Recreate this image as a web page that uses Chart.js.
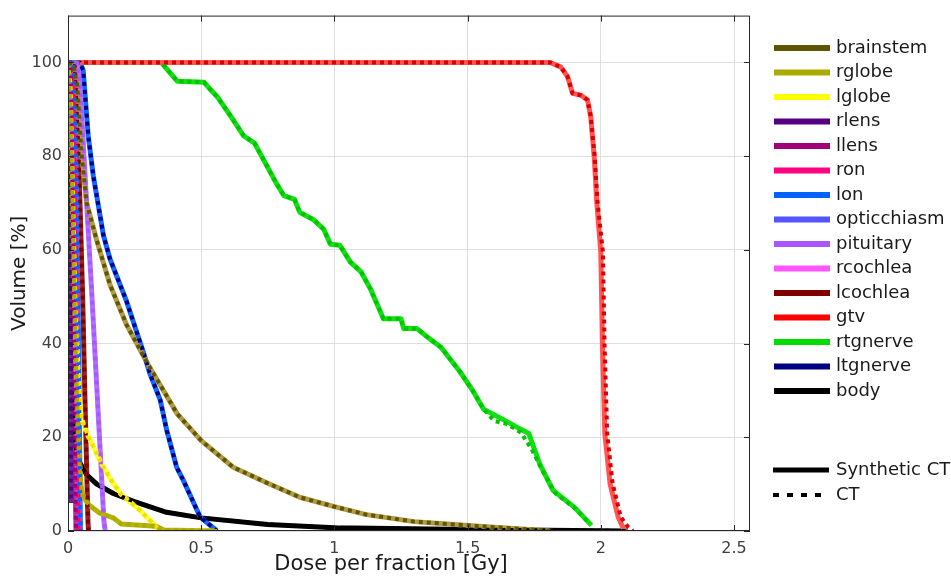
<!DOCTYPE html>
<html>
<head>
<meta charset="utf-8">
<script src="https://cdn.jsdelivr.net/npm/chart.js@4.4.1/dist/chart.umd.min.js"></script>
<style>
    html, body { margin: 0; padding: 0; background: #fff; }
    #wrap { width: 951px; height: 578px; position: relative; }
</style>
</head>
<body>
<div id="wrap"><canvas id="dvhChart"></canvas></div>
<script>
// tick labels
const doseTicks = [0, 0.5, 1, 1.5, 2, 2.5];
const volumeTicks = [0, 20, 40, 60, 80, 100];

const organs = ["brainstem", "rglobe", "lglobe", "rlens", "llens", "ron", "lon", "opticchiasm",
    "pituitary", "rcochlea", "lcochlea", "gtv", "rtgnerve", "ltgnerve", "body"];

// [dose Gy, volume %] - synthetic CT
const brainstemSyn = [[0, 100], [0.02, 99.5], [0.035, 95], [0.05, 81], [0.07, 70], [0.108, 62], [0.158, 52.5], [0.22, 44], [0.3, 35.6], [0.41, 25], [0.5, 19.3], [0.62, 13.6], [0.75, 10.2], [0.87, 7.2], [1.0, 5.2], [1.12, 3.5], [1.3, 2], [1.45, 1.4], [1.6, 0.8], [1.82, 0]];
const rglobeSyn = [[0, 100], [0.01, 90], [0.02, 60], [0.03, 35], [0.04, 18], [0.05, 9], [0.06, 7], [0.08, 5.5], [0.12, 3.8], [0.17, 2.8], [0.2, 1.5], [0.33, 1], [0.36, 0.2], [0.56, 0]];
const lglobeSyn = [[0, 100], [0.01, 95], [0.02, 70], [0.03, 45], [0.04, 30], [0.05, 24], [0.07, 21], [0.12, 15], [0.16, 11], [0.2, 7.8], [0.27, 4.4], [0.33, 1], [0.35, 0]];
const rlensSyn = [[0, 100], [0.005, 80], [0.01, 40], [0.012, 6]];
const llensSyn = [[0, 100], [0.01, 100], [0.02, 60], [0.025, 20], [0.03, 0]];
const ronSyn = [[0, 100], [0.02, 95], [0.03, 60], [0.035, 20], [0.04, 0]];
const lonSyn = [[0, 100], [0.02, 100], [0.03, 80], [0.04, 40], [0.045, 10], [0.047, 0]];
const opticchiasmSyn = [[0, 100], [0.015, 100], [0.025, 70], [0.035, 30], [0.04, 5], [0.042, 0]];
const pituitarySyn = [[0, 100], [0.035, 100], [0.045, 95], [0.09, 50], [0.135, 2], [0.14, 0]];
const rcochleaSyn = [[0, 100], [0.015, 100], [0.025, 60], [0.035, 10], [0.04, 0]];
const lcochleaSyn = [[0, 100], [0.025, 100], [0.04, 80], [0.055, 50], [0.065, 25], [0.075, 2], [0.077, 0]];
const gtvSyn = [[0, 100], [1.81, 100], [1.85, 99], [1.875, 97], [1.894, 93.4], [1.925, 93], [1.95, 92], [1.962, 88.5], [1.975, 80], [1.985, 70], [2.0, 59.5], [2.006, 40], [2.015, 20.8], [2.035, 10], [2.065, 3], [2.085, 0.5], [2.09, 0]];
const rtgnerveSyn = [[0, 100], [0.35, 100], [0.38, 98], [0.41, 96], [0.51, 95.8], [0.53, 94.5], [0.56, 92.7], [0.61, 88.6], [0.66, 84.3], [0.7, 82.8], [0.72, 80.7], [0.78, 74.4], [0.81, 71.6], [0.85, 70.8], [0.87, 68], [0.92, 66.5], [0.96, 64.4], [0.985, 61.2], [1.02, 61], [1.06, 57.4], [1.1, 55.3], [1.135, 51.7], [1.184, 45.3], [1.25, 45.3], [1.26, 43.2], [1.31, 43.2], [1.36, 40.9], [1.4, 39.2], [1.47, 34.1], [1.52, 29.9], [1.56, 26], [1.62, 24.2], [1.69, 22], [1.73, 20.8], [1.77, 14.4], [1.82, 8.7], [1.9, 5.1], [1.965, 1.2]];
const ltgnerveSyn = [[0, 100], [0.045, 100], [0.057, 98.3], [0.076, 84.3], [0.095, 75.8], [0.133, 63.1], [0.158, 58], [0.22, 49], [0.282, 38.3], [0.308, 33.5], [0.346, 28], [0.371, 21.4], [0.408, 13.6], [0.433, 10.8], [0.496, 3], [0.559, 0]];
const bodySyn = [[0, 100], [0.004, 60], [0.01, 35], [0.02, 22], [0.03, 17.5], [0.045, 14.5], [0.07, 12], [0.108, 10], [0.17, 8], [0.244, 6.4], [0.37, 4], [0.5, 2.8], [0.75, 1.4], [1.0, 0.7], [1.5, 0.3], [2.0, 0.05], [2.1, 0]];

// CT curves where they differ visibly from synthetic CT
const gtvCT = [[0, 100], [1.81, 100], [1.85, 99], [1.875, 97], [1.894, 93.4], [1.925, 93], [1.95, 92], [1.962, 88.5], [1.977, 80], [1.988, 70], [2.008, 59.5], [2.014, 40], [2.024, 20.8], [2.044, 10.2], [2.075, 3], [2.1, 1], [2.12, 0]];
const rtgnerveCT = [[0, 100], [0.35, 100], [0.38, 98], [0.41, 96], [0.51, 95.8], [0.53, 94.5], [0.56, 92.7], [0.61, 88.6], [0.66, 84.3], [0.7, 82.8], [0.72, 80.7], [0.78, 74.4], [0.81, 71.6], [0.85, 70.8], [0.87, 68], [0.92, 66.5], [0.96, 64.4], [0.985, 61.2], [1.02, 61], [1.06, 57.4], [1.1, 55.3], [1.135, 51.7], [1.184, 45.3], [1.25, 45.3], [1.26, 43.2], [1.31, 43.2], [1.36, 40.9], [1.4, 39.2], [1.47, 34.1], [1.52, 29.9], [1.56, 26], [1.6, 23.5], [1.65, 22.8], [1.7, 21], [1.74, 17.5], [1.78, 13], [1.83, 8], [1.9, 5], [1.96, 1.5]];

const synValues = [brainstemSyn, rglobeSyn, lglobeSyn, rlensSyn, llensSyn, ronSyn, lonSyn, opticchiasmSyn,
    pituitarySyn, rcochleaSyn, lcochleaSyn, gtvSyn, rtgnerveSyn, ltgnerveSyn, bodySyn];
const ctValues = [brainstemSyn, rglobeSyn, lglobeSyn, rlensSyn, llensSyn, ronSyn, lonSyn, opticchiasmSyn,
    pituitarySyn, rcochleaSyn, lcochleaSyn, gtvCT, rtgnerveCT, ltgnerveSyn, bodySyn];

let ctColors = ["#5e5700", "#aaaa00", "#ffff00", "#550080", "#a0007a", "#ff0080", "#0064ff", "#5555ff",
    "#aa55ff", "#ff55ff", "#800000", "#ff0000", "#00dd00", "#000080", "#000000"];
let dotColors = ["#5e5700", "#aaaa00", "#f0e000", "#550080", "#a0007a", "#ff0080", "#0064ff", "#5555ff",
    "#aa55ff", "#ff55ff", "#800000", "#dd0000", "#00c400", "#000080", "#000000"];
let synColors = ["#b39a48", "#b5b500", "#ffff30", "#6a2a95", "#b03090", "#ff3399", "#2a7dff", "#6b6bff",
    "#b070ff", "#ff70ff", "#992222", "#ff5555", "#11e011", "#1466ff", "#000000"];

const FONT = "'DejaVu Sans', Verdana, sans-serif";

function toPoints(list) {
    return list.map(p => ({ x: p[0], y: p[1] }));
}

let datasets = [];
organs.forEach((name, i) => {
    datasets.push({
        label: name + " synthetic",
        data: toPoints(synValues[i]),
        borderColor: synColors[i],
        borderWidth: 5,
        order: 1,
    });
    datasets.push({
        label: name + " CT",
        data: toPoints(ctValues[i]),
        borderColor: dotColors[i],
        borderWidth: 4,
        borderDash: [4, 4],
        order: 0,
    });
});

// matlab-like box, inward ticks, x title and legend on the right
const boxPlugin = {
    id: "boxPlugin",
    afterDraw(chart) {
        const ctx = chart.ctx;
        const a = chart.chartArea;
        const xs = chart.scales.x, ys = chart.scales.y;
        ctx.save();
        ctx.strokeStyle = "#262626";
        ctx.lineWidth = 1;
        ctx.strokeRect(a.left + 0.5, a.top + 0.5, a.right - a.left - 1, a.bottom - a.top - 1);
        ctx.beginPath();
        doseTicks.forEach(v => {
            let px = Math.round(xs.getPixelForValue(v)) + 0.5;
            ctx.moveTo(px, a.bottom); ctx.lineTo(px, a.bottom - 6);
            ctx.moveTo(px, a.top); ctx.lineTo(px, a.top + 6);
        });
        volumeTicks.forEach(v => {
            let py = Math.round(ys.getPixelForValue(v)) + 0.5;
            ctx.moveTo(a.left, py); ctx.lineTo(a.left + 6, py);
            ctx.moveTo(a.right, py); ctx.lineTo(a.right - 6, py);
        });
        ctx.stroke();

        ctx.fillStyle = "#1a1a1a";
        ctx.font = "21px " + FONT;
        ctx.textAlign = "center";
        ctx.textBaseline = "middle";
        ctx.fillText("Dose per fraction [Gy]", 391, 565);

        // legend
        ctx.textAlign = "left";
        ctx.font = "18px " + FONT;
        organs.forEach((name, i) => {
            let y = 48 + i * 24.5;
            ctx.strokeStyle = ctColors[i];
            ctx.lineWidth = 6;
            ctx.setLineDash([]);
            ctx.beginPath();
            ctx.moveTo(774, y); ctx.lineTo(830, y);
            ctx.stroke();
            ctx.fillText(name, 836, y);
        });
        ctx.strokeStyle = "#000";
        ctx.lineWidth = 5;
        ctx.beginPath();
        ctx.moveTo(773, 470); ctx.lineTo(829, 470);
        ctx.stroke();
        ctx.fillText("Synthetic CT", 836, 470);
        ctx.lineWidth = 4;
        ctx.setLineDash([6, 8]);
        ctx.beginPath();
        ctx.moveTo(773, 495); ctx.lineTo(829, 495);
        ctx.stroke();
        ctx.setLineDash([]);
        ctx.fillText("CT", 836, 495);
        ctx.restore();
    }
};

new Chart(document.getElementById("dvhChart"), {
    type: "line",
    data: { datasets: datasets },
    options: {
        responsive: true,
        maintainAspectRatio: false,
        animation: false,
        elements: {
            point: { radius: 0 },
            line: { tension: 0, borderCapStyle: "butt", borderJoinStyle: "round" },
        },
        layout: { padding: { left: 0, top: 13, right: 201, bottom: 0 } },
        plugins: {
            legend: { display: false },
            tooltip: { enabled: false },
        },
        scales: {
            x: {
                type: "linear",
                min: 0,
                max: 2.56,
                afterBuildTicks: (scale) => { scale.ticks = doseTicks.map(v => ({ value: v })); },
                afterFit: (scale) => { scale.height = 47; },
                grid: { color: "#dedede", drawTicks: false },
                border: { display: false },
                ticks: {
                    padding: 8,
                    color: "#404040",
                    font: { family: FONT, size: 16 },
                    maxRotation: 0,
                    callback: (v) => String(v),
                },
                title: { display: false },
            },
            y: {
                min: 0,
                max: 110,
                afterBuildTicks: (scale) => { scale.ticks = volumeTicks.map(v => ({ value: v })); },
                afterFit: (scale) => { scale.width = 68; },
                grid: { color: "#dedede", drawTicks: false },
                border: { display: false },
                ticks: {
                    padding: 6,
                    color: "#404040",
                    font: { family: FONT, size: 16 },
                    callback: (v) => String(v),
                },
                title: {
                    display: true,
                    text: "Volume [%]",
                    color: "#1a1a1a",
                    font: { family: FONT, size: 20 },
                    padding: { top: 8, bottom: 0 },
                },
            },
        },
    },
    plugins: [boxPlugin],
});
</script>
</body>
</html>
